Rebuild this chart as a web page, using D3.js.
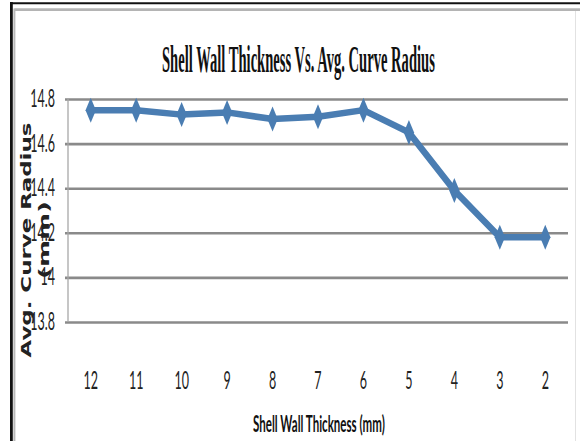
<!DOCTYPE html>
<html>
<head>
<meta charset="utf-8">
<script src="https://cdn.jsdelivr.net/npm/d3@7"></script>
<style>
  html, body { margin: 0; padding: 0; background: #fff; }
  svg { display: block; }
</style>
</head>
<body>
<svg id="chart" width="580" height="441"></svg>
<script>
// Shell wall thickness (mm), plotted from thickest to thinnest
const thickness = ["12", "11", "10", "9", "8", "7", "6", "5", "4", "3", "2"];
// Average curve radius (mm) measured for each thickness
const avgRadius = [14.75, 14.75, 14.73, 14.74, 14.71, 14.72, 14.75, 14.65, 14.39, 14.18, 14.18];
// Value-axis ticks
const yTicks = [13.8, 14, 14.2, 14.4, 14.6, 14.8];

const titleText = "Shell Wall Thickness Vs. Avg. Curve Radius";
const xTitleText = "Shell Wall Thickness (mm)";
const yTitleLines = ["Avg. Curve Radius", "(mm)"];

const svg = d3.select("#chart");
const W = 580, H = 441;
const plot = { left: 68, right: 568, top: 99, bottom: 322 };

// Squeeze/stretch a text node along its baseline to a target length
function fitLength(sel, target) {
  sel.each(function () {
    const natural = this.getComputedTextLength();
    const base = this.getAttribute("data-base") || "";
    this.setAttribute("transform", `${base} scale(${target / natural},1)`);
  });
}

// Chart frame: dark outer rule with a soft grey inner rule
svg.append("line").attr("x1", 10).attr("x2", W).attr("y1", 3.3).attr("y2", 3.3)
  .attr("stroke", "#111").attr("stroke-width", 2);
svg.append("line").attr("x1", 11.4).attr("x2", 11.4).attr("y1", 2).attr("y2", H)
  .attr("stroke", "#111").attr("stroke-width", 2.8);
svg.append("line").attr("x1", 14.5).attr("x2", W).attr("y1", 9.6).attr("y2", 9.6)
  .attr("stroke", "#b4b4b4").attr("stroke-width", 2.6);
svg.append("line").attr("x1", 14.4).attr("x2", 14.4).attr("y1", 8.5).attr("y2", H)
  .attr("stroke", "#b8b8b8").attr("stroke-width", 2);
svg.append("line").attr("x1", 575.5).attr("x2", 575.5).attr("y1", 11).attr("y2", H)
  .attr("stroke", "#e2e2e2").attr("stroke-width", 1);

const x = d3.scaleBand().domain(thickness).range([plot.left, plot.right]);
const y = d3.scaleLinear().domain([13.8, 14.8]).range([plot.bottom, plot.top]);

// Horizontal gridlines (with the short tick stubs left of the axis)
svg.append("g")
  .attr("transform", `translate(${plot.left},0)`)
  .call(d3.axisLeft(y).tickValues(yTicks).tickSize(-(plot.right - plot.left)).tickFormat(""))
  .call(g => g.select(".domain").remove())
  .call(g => g.selectAll(".tick line")
    .attr("x1", -3)
    .attr("stroke", "#8a8a8a").attr("stroke-width", 2.6));

// Value axis line
svg.append("line")
  .attr("x1", plot.left).attr("x2", plot.left)
  .attr("y1", y(14.8)).attr("y2", y(13.8))
  .attr("stroke", "#a8a8a8").attr("stroke-width", 1.3);

// Y tick labels (narrow, tall digits)
svg.append("g").selectAll("text").data(yTicks).join("text")
  .attr("transform", d => `translate(55,${y(d) + 8}) scale(0.5,1)`)
  .attr("text-anchor", "end")
  .attr("font-family", "Lato, 'Open Sans', sans-serif")
  .attr("font-size", 25)
  .attr("fill", "#222")
  .text(d => d3.format("~g")(d));

// X tick labels
svg.append("g").selectAll("text").data(thickness).join("text")
  .attr("transform", d => `translate(${x(d) + x.bandwidth() / 2},389) scale(0.5,1)`)
  .attr("text-anchor", "middle")
  .attr("font-family", "Lato, 'Open Sans', sans-serif")
  .attr("font-size", 25)
  .attr("fill", "#222")
  .text(d => d);

// Series line
const cx = (d, i) => x(thickness[i]) + x.bandwidth() / 2;
const line = d3.line().x((d, i) => cx(d, i)).y(d => y(d));
svg.append("path")
  .datum(avgRadius)
  .attr("d", line)
  .attr("fill", "none")
  .attr("stroke", "#4a7db2")
  .attr("stroke-width", 6.5)
  .attr("stroke-linejoin", "round");

// Diamond markers (tall)
svg.append("g").selectAll("path").data(avgRadius).join("path")
  .attr("transform", (d, i) => `translate(${cx(d, i)},${y(d)})`)
  .attr("d", "M0,-12.5 L5.2,0 L0,12.5 L-5.2,0 Z")
  .attr("fill", "#4a7db2");

// Chart title
svg.append("text")
  .attr("data-base", "translate(162,72)")
  .attr("font-family", "'Liberation Serif', 'Times New Roman', serif")
  .attr("font-weight", "bold")
  .attr("font-size", 37)
  .attr("fill", "#111")
  .text(titleText)
  .call(fitLength, 273);

// X axis title
svg.append("text")
  .attr("data-base", "translate(253,432)")
  .attr("font-family", "Lato, 'Open Sans', sans-serif")
  .attr("font-weight", "bold")
  .attr("font-size", 22)
  .attr("fill", "#111")
  .text(xTitleText)
  .call(fitLength, 132);

// Y axis title, two lines, rotated
const yTitle = [
  { text: yTitleLines[0], bx: 30.5, len: 235 },
  { text: yTitleLines[1], bx: 48.5, len: 78 }
];
svg.append("g").selectAll("text").data(yTitle).join("text")
  .attr("data-base", d => `translate(${d.bx},240) rotate(-90) translate(${-d.len / 2},0)`)
  .attr("font-family", "'DejaVu Sans', Verdana, sans-serif")
  .attr("font-weight", "bold")
  .attr("font-size", 14)
  .attr("fill", "#222")
  .text(d => d.text)
  .each(function (d) { d3.select(this).call(fitLength, d.len); });
</script>
</body>
</html>
